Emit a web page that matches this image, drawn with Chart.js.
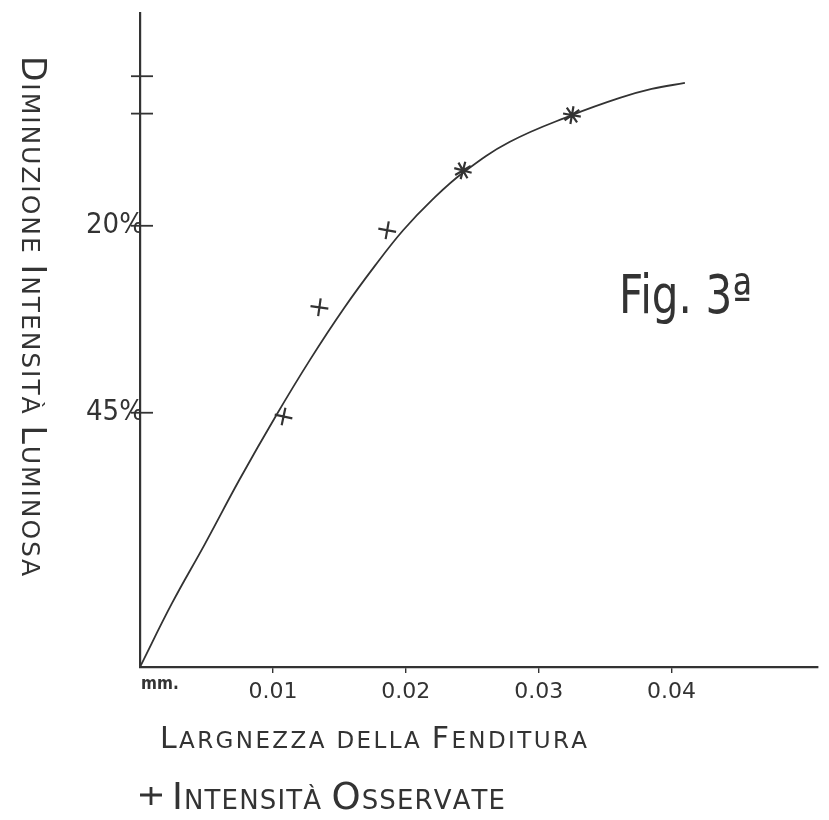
<!DOCTYPE html>
<html>
<head>
<meta charset="utf-8">
<script src="https://cdn.jsdelivr.net/npm/chart.js@4.4.1/dist/chart.umd.min.js"></script>
<style>
  html, body { margin: 0; padding: 0; background: #ffffff; }
  canvas { display: block; }
</style>
</head>
<body>
<canvas id="c" width="829" height="820"></canvas>
<script>
// ---- data ----
const xTickValues = [0.01, 0.02, 0.03, 0.04];
const xTickLabels = ['0.01', '0.02', '0.03', '0.04'];
const xUnitLabel = 'mm.';
const yTickValues = [0, 5, 20, 45];
const yTickLabels = ['', '', '20%', '45%'];

// smooth hand-drawn curve
const curveX = [0, 0.0024, 0.0049, 0.0075, 0.0102, 0.0128, 0.0154, 0.0177, 0.0198, 0.0220, 0.0243, 0.0278, 0.0325, 0.0361, 0.0385, 0.0410];
const curveY = [79.0, 70.5, 62.5, 53.9, 45.5, 37.9, 30.9, 25.3, 20.6, 16.5, 12.9, 8.8, 5.2, 2.9, 1.7, 0.9];

// observed intensities (+ and * marks)
const obsX = [0.0108, 0.0135, 0.0186, 0.0243, 0.0325];
const obsY = [45.5, 30.9, 20.6, 12.6, 5.2];
const obsStyle = ['cross', 'cross', 'cross', 'star', 'star'];

const yTitle = 'Diminuzione Intensità Luminosa';
const xTitle = 'Largnezza della Fenditura';
const legendLabel = 'Intensità Osservate';
const figLabel = 'Fig. 3ª';

const INK = '#333333';
const FAMILY = "'DejaVu Sans', 'Liberation Sans', sans-serif";
const NARROW = "'Liberation Sans Narrow', 'DejaVu Sans Condensed', 'DejaVu Sans', sans-serif";

function isUpper(c) { return c !== c.toLowerCase() && c === c.toUpperCase(); }

// draw text in small capitals, stretched to a given length
function drawSmallCaps(ctx, text, x, y, big, small, targetLen) {
  const parts = [];
  let sum = 0;
  for (const ch of text) {
    const size = isUpper(ch) ? big : small;
    ctx.font = size + 'px ' + FAMILY;
    const g = ch.toUpperCase();
    const w = ctx.measureText(g).width;
    parts.push({ g, size, w });
    sum += w;
  }
  const gap = parts.length > 1 ? (targetLen - sum) / (parts.length - 1) : 0;
  let cx = x;
  for (const p of parts) {
    ctx.font = p.size + 'px ' + FAMILY;
    ctx.fillText(p.g, cx, y);
    cx += p.w + gap;
  }
}

const decor = {
  id: 'decor',
  afterDraw(chart) {
    const ctx = chart.ctx;
    const xs = chart.scales.x, ys = chart.scales.y;
    ctx.save();
    ctx.strokeStyle = INK;
    ctx.fillStyle = INK;
    ctx.lineWidth = 1.8;
    // cross ticks on the vertical axis
    for (const v of yTickValues) {
      const py = ys.getPixelForValue(v);
      ctx.beginPath();
      ctx.moveTo(xs.left - 9, py);
      ctx.lineTo(xs.left + 13, py);
      ctx.stroke();
    }
    ctx.textAlign = 'left';
    ctx.textBaseline = 'alphabetic';
    // unit label at the origin
    ctx.font = 'bold 17px ' + NARROW;
    ctx.fillText(xUnitLabel, xs.left + 1, xs.top + 22);
    // vertical title (reads top to bottom)
    ctx.save();
    ctx.translate(33, 56);
    ctx.rotate(Math.PI / 2);
    drawSmallCaps(ctx, yTitle, 0, 11, 33, 25, 520);
    ctx.restore();
    // horizontal title
    drawSmallCaps(ctx, xTitle, 160, 748, 30, 23, 427);
    // legend
    const lx = 151, ly = 795;
    ctx.lineWidth = 2.8;
    ctx.beginPath();
    ctx.moveTo(lx - 11, ly); ctx.lineTo(lx + 11, ly);
    ctx.moveTo(lx, ly - 8); ctx.lineTo(lx, ly + 10);
    ctx.stroke();
    drawSmallCaps(ctx, legendLabel, 172, 809, 37, 26, 333);
    // figure label
    ctx.save();
    ctx.translate(619, 313);
    ctx.scale(0.78, 1);
    ctx.font = '54px ' + FAMILY;
    ctx.fillText(figLabel, 0, 0);
    ctx.restore();
    ctx.restore();
  }
};

new Chart(document.getElementById('c'), {
  type: 'line',
  data: {
    datasets: [
      {
        label: 'curva',
        data: curveX.map((x, i) => ({ x, y: curveY[i] })),
        borderColor: INK,
        borderWidth: 1.8,
        pointRadius: 0,
        tension: 0.4,
        fill: false
      },
      {
        label: legendLabel,
        data: obsX.map((x, i) => ({ x, y: obsY[i] })),
        showLine: false,
        pointStyle: obsStyle,
        pointRotation: [12, 8, 10, 15, 10],
        pointRadius: 9,
        pointBorderColor: INK,
        pointBorderWidth: 2.2,
        pointBackgroundColor: INK
      }
    ]
  },
  options: {
    responsive: false,
    animation: false,
    devicePixelRatio: 1,
    layout: { padding: { top: 10, right: 0, left: 0, bottom: 0 } },
    plugins: { legend: { display: false }, tooltip: { enabled: false }, title: { display: false } },
    scales: {
      x: {
        type: 'linear',
        min: 0,
        max: 0.0510,
        afterBuildTicks: s => { s.ticks = xTickValues.map(v => ({ value: v })); },
        afterFit: s => { s.height = 153; },
        ticks: {
          color: INK,
          padding: 6,
          maxRotation: 0,
          autoSkip: false,
          font: { family: FAMILY, size: 22 },
          callback: (v, i) => xTickLabels[i]
        },
        grid: {
          display: true,
          drawOnChartArea: false,
          drawTicks: true,
          tickLength: 6,
          lineWidth: 1.4,
          color: INK
        },
        border: { display: true, color: INK, width: 2.2 }
      },
      y: {
        type: 'linear',
        reverse: true,
        min: -8.4,
        max: 79,
        afterBuildTicks: s => { s.ticks = yTickValues.map(v => ({ value: v })); },
        afterFit: s => { s.width = 140; },
        ticks: {
          color: INK,
          padding: -4,
          autoSkip: false,
          font: { family: NARROW, size: 29 },
          callback: (v, i) => yTickLabels[i]
        },
        grid: { display: true, drawOnChartArea: false, drawTicks: false },
        border: { display: true, color: INK, width: 2.2 }
      }
    }
  },
  plugins: [decor]
});
</script>
</body>
</html>
